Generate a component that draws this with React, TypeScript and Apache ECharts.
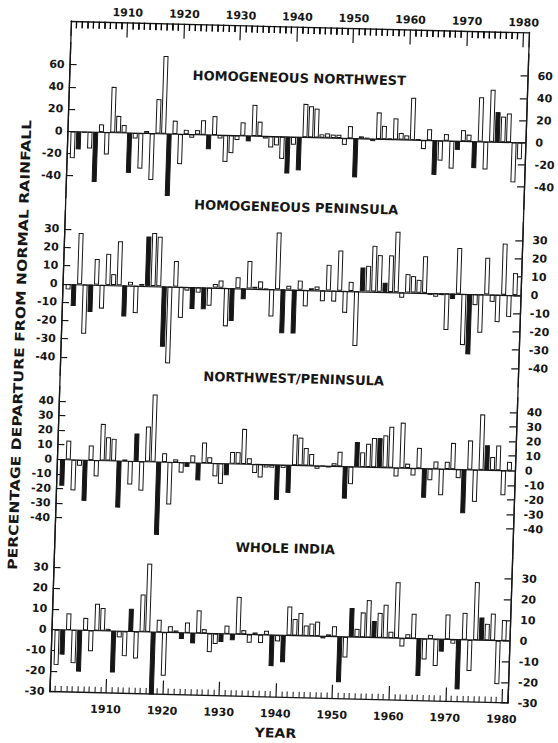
import React, { useEffect, useRef } from 'react';
import * as echarts from 'echarts';

// ---------------- data ----------------
const years: number[] = Array.from({ length: 80 }, (_, i) => 1901 + i);

// Homogeneous Northwest, % departure 1901..1980
const northwest = [
  -24, -16, -1, -15, -45, 7, -20, 41, 15, 7,
  -36, -5, -32, 2, -42, 31, 70, -56, 12, -27,
  4, -3, 4, 13, -13, 17, -3, -24, -16, -4,
  12, -5, 28, 13, -2, -10, -8, -20, -33, -7,
  -30, 30, 28, 26, 3, 4, 3, 3, -6, 11,
  -35, 2, 1, -2, 24, 12, 1, 19, 6, 4,
  38, 1, -8, 10, -31, -18, 6, -25, -8, 10,
  6, -24, 40, -25, 47, 27, 23, 26, -36, -15,
];
const northwestBlack = [1902, 1905, 1911, 1918, 1925, 1932, 1939, 1941, 1951, 1965, 1969, 1972, 1976];

// Homogeneous Peninsula
const peninsula = [
  -3, -12, 28, -27, -15, 14, -13, 17, 6, 24,
  -17, 2, -15, 1, 27, 29, 27, -33, -42, 14,
  -17, -2, -12, -3, -12, -10, 2, 4, -21, -18,
  6, -6, 15, 1, 4, 0, -15, 31, -24, 2,
  -24, 5, -9, 1, 2, -6, 14, -6, 22, -12,
  5, -30, 13, 14, 25, 20, 5, 20, 33, -3,
  10, 9, 7, 20, -1, -2, -1, -20, -3, 25,
  -28, -33, -6, -21, 20, -4, -15, 28, -12, 12,
];
const peninsulaBlack = [1902, 1905, 1911, 1915, 1918, 1923, 1925, 1930, 1932, 1939, 1941, 1953, 1957, 1969, 1972];

// Northwest / Peninsula
const nwPeninsula = [
  -18, 13, -21, -4, -28, 10, -11, 25, 16, 15,
  -32, 1, -16, 19, -20, 24, 46, -50, 6, -29,
  2, -7, -3, 5, -12, 14, 4, -9, -14, -8,
  8, 8, 24, 4, -6, -9, -2, -2, -24, -2,
  -19, 21, 19, 12, 8, -2, 0, -1, 2, 10,
  -22, -12, 17, 10, 16, 20, 20, 22, 28, -6,
  31, 3, -5, 14, -20, -8, 5, -18, 5, 18,
  -6, -30, 20, -22, 38, 17, 9, 17, -17, 6,
];
const nwPeninsulaBlack = [1901, 1905, 1911, 1914, 1918, 1923, 1925, 1930, 1939, 1941, 1951, 1953, 1957, 1965, 1972, 1976];

// Whole India
const wholeIndia = [
  -17, -12, 8, -16, -20, 6, -10, 13, 11, 1,
  -20, -3, -12, 11, -13, 18, 33, -31, 6, -21,
  3, 1, -3, 5, -5, 11, 2, -9, -5, -4,
  4, -3, 18, 2, -4, 1, -4, 2, -15, -3,
  -13, 14, 8, 11, 5, 6, 7, -1, 1, 5,
  -22, -10, 14, 4, 12, 18, 8, 12, 16, 3,
  27, -4, 2, 12, -18, -10, 2, -13, -6, 12,
  -2, -24, 13, -15, 28, 11, 8, 13, -21, 10,
];
const wholeIndiaBlack = [1902, 1905, 1911, 1914, 1918, 1923, 1925, 1930, 1932, 1939, 1941, 1951, 1953, 1957, 1965, 1969, 1972, 1976];

const decadeLabels = [1910, 1920, 1930, 1940, 1950, 1960, 1970, 1980];
const rulerYears: number[] = Array.from({ length: 80 }, (_, i) => 1901 + i).filter((y) => y % 10 !== 0);

const nwTicks = [60, 40, 20, 0, -20, -40];
const penTicks = [30, 20, 10, 0, -10, -20, -30, -40];
const ratioTicks = [40, 30, 20, 10, 0, -10, -20, -30, -40];
const indiaTicks = [30, 20, 10, 0, -10, -20, -30];

const titles = ['HOMOGENEOUS NORTHWEST', 'HOMOGENEOUS PENINSULA', 'NORTHWEST/PENINSULA', 'WHOLE INDIA'];
const yTitle = 'PERCENTAGE DEPARTURE FROM NORMAL RAINFALL';
const xTitle = 'YEAR';

// ---------------- layout ----------------
const INK = '#161616';
const FAMILY = '"DejaVu Sans", "Liberation Sans", sans-serif';
const LEFT = 60;
const WIDTH = 458;
const XMIN = 1900;
const XMAX = 1981;
const FRAME_TOP = 27;
const FRAME_BOTTOM = 697.6;
const TOP_MINOR_LEN = 7;

const panels = [
  { values: northwest, black: northwestBlack, ticks: nwTicks, zero: 137.3, scale: 1.11, min: -60, max: 80, tx: 290, ty: 78.4 },
  { values: peninsula, black: peninsulaBlack, ticks: penTicks, zero: 289.8, scale: 1.83, min: -50, max: 40, tx: 291, ty: 207.6 },
  { values: nwPeninsula, black: nwPeninsulaBlack, ticks: ratioTicks, zero: 465.3, scale: 1.46, min: -60, max: 50, tx: 294, ty: 378.8 },
  { values: wholeIndia, black: wholeIndiaBlack, ticks: indiaTicks, zero: 635.5, scale: 2.07, min: -30, max: 40, tx: 291, ty: 548.7 },
];

const labelFont = { color: INK, fontFamily: FAMILY, fontSize: 11, fontWeight: 'bold' as const };

function rulerAxis(position: 'top' | 'bottom', majorLen: number, minorLen: number, margin: number) {
  return {
    type: 'value', gridIndex: 0, position, min: XMIN, max: XMAX, interval: 10,
    axisLine: { show: true, onZero: false, lineStyle: { color: INK, width: 1.3 } },
    axisTick: { show: true, inside: true, length: majorLen, lineStyle: { color: INK, width: 1.2 } },
    minorTick: { show: true, splitNumber: 10, length: minorLen, lineStyle: { color: INK, width: 1 } },
    axisLabel: {
      show: true, margin, ...labelFont,
      showMinLabel: false, showMaxLabel: true,
      formatter: (v: number) => (decadeLabels.includes(v) ? String(v) : ''),
    },
    splitLine: { show: false },
    minorSplitLine: { show: false },
  };
}

function textGraphics(): any[] {
  const textStyle = (text: string) => ({
    text, fill: INK, font: `bold 13px ${FAMILY}`,
    textAlign: 'center', textVerticalAlign: 'middle', align: 'center', verticalAlign: 'middle',
  });
  const g: any[] = panels.map((p, i) => ({
    type: 'text', id: 'title' + i, x: p.tx, y: p.ty, style: textStyle(titles[i]),
  }));
  g.push({ type: 'text', id: 'ytitle', x: 19, y: 352, rotation: Math.PI / 2, scaleX: 1.2, style: textStyle(yTitle) });
  g.push({ type: 'text', id: 'xtitle', x: 287, y: 733, scaleX: 1.08, style: textStyle(xTitle) });
  return g;
}

function buildOption() {
  const grid: any[] = [
    { left: LEFT, width: WIDTH, top: FRAME_TOP, height: FRAME_BOTTOM - FRAME_TOP, containLabel: false, outerBoundsMode: 'none' },
  ];
  const xAxis: any[] = [rulerAxis('top', 15, 7, 4), rulerAxis('bottom', 14, 6, 11)];
  const yAxis: any[] = [
    {
      type: 'value', gridIndex: 0, position: 'left', min: 0, max: 1,
      axisLine: { show: true, onZero: false, lineStyle: { color: INK, width: 1.3 } },
      axisTick: { show: false }, axisLabel: { show: false }, splitLine: { show: false },
    },
    {
      type: 'value', gridIndex: 0, position: 'right', min: 0, max: 1,
      axisLine: { show: true, onZero: false, lineStyle: { color: INK, width: 1.3 } },
      axisTick: { show: false }, axisLabel: { show: false }, splitLine: { show: false },
    },
  ];
  const series: any[] = [];

  panels.forEach((p) => {
    const g = grid.length;
    grid.push({
      left: LEFT, width: WIDTH,
      top: p.zero - p.max * p.scale,
      height: (p.max - p.min) * p.scale,
      containLabel: false, outerBoundsMode: 'none',
    });
    const xi = xAxis.length;
    xAxis.push({ type: 'value', gridIndex: g, min: XMIN, max: XMAX, show: false });
    const yl = yAxis.length;
    const sideAxis = (position: 'left' | 'right', margin: number) => ({
      type: 'value', gridIndex: g, position, min: p.min, max: p.max,
      axisLine: { show: true, onZero: false, lineStyle: { color: INK, width: 1.3 } },
      axisTick: { show: true, inside: true, length: 7, customValues: p.ticks, lineStyle: { color: INK, width: 1.2 } },
      axisLabel: { show: true, customValues: p.ticks, margin, ...labelFont, formatter: (v: number) => String(v) },
      splitLine: { show: false },
    });
    yAxis.push(sideAxis('left', 5));
    yAxis.push(sideAxis('right', 10));
    series.push({
      type: 'bar',
      xAxisIndex: xi,
      yAxisIndex: yl,
      barWidth: 5,
      data: years.map((yr, k) => ({
        value: [yr, p.values[k]],
        itemStyle: p.black.includes(yr)
          ? { color: INK, borderColor: INK, borderWidth: 1 }
          : { color: '#ffffff', borderColor: INK, borderWidth: 1 },
      })),
      markLine: {
        silent: true,
        symbol: ['none', 'none'],
        label: { show: false },
        lineStyle: { color: INK, width: 1.2, type: 'solid' },
        data: [{ yAxis: 0 }],
      },
    });
  });

  return {
    animation: false,
    backgroundColor: '#ffffff',
    textStyle: { fontFamily: FAMILY, color: INK },
    grid, xAxis, yAxis, series,
    graphic: textGraphics(),
  };
}

export default function App() {
  const ref = useRef<HTMLDivElement>(null);
  useEffect(() => {
    if (!ref.current) return;
    const chart = echarts.init(ref.current, null, { renderer: 'svg' });
    chart.setOption(buildOption() as any);
    // yearly ruler ticks along the top frame, placed through the top axis scale
    const ticks = rulerYears.map((yr, i) => {
      let px = Number(chart.convertToPixel({ xAxisIndex: 0 } as any, yr));
      if (!isFinite(px)) px = LEFT + ((yr - XMIN) / (XMAX - XMIN)) * WIDTH;
      return {
        type: 'line', id: 'rt' + i, silent: true, z: 50,
        shape: { x1: px, y1: FRAME_TOP, x2: px, y2: FRAME_TOP + TOP_MINOR_LEN },
        style: { stroke: '#000000', lineWidth: 1.2 },
      };
    });
    chart.setOption({ graphic: [...textGraphics(), ...ticks] } as any);
    return () => chart.dispose();
  }, []);
  return (
    <div
      ref={ref}
      style={{
        position: 'absolute', left: 0, top: 0, width: 558, height: 743,
        background: '#ffffff',
        transform: 'matrix(1, 0.025, -0.032, 1, 0, 0)',
        transformOrigin: '300px 370px',
      }}
    />
  );
}
